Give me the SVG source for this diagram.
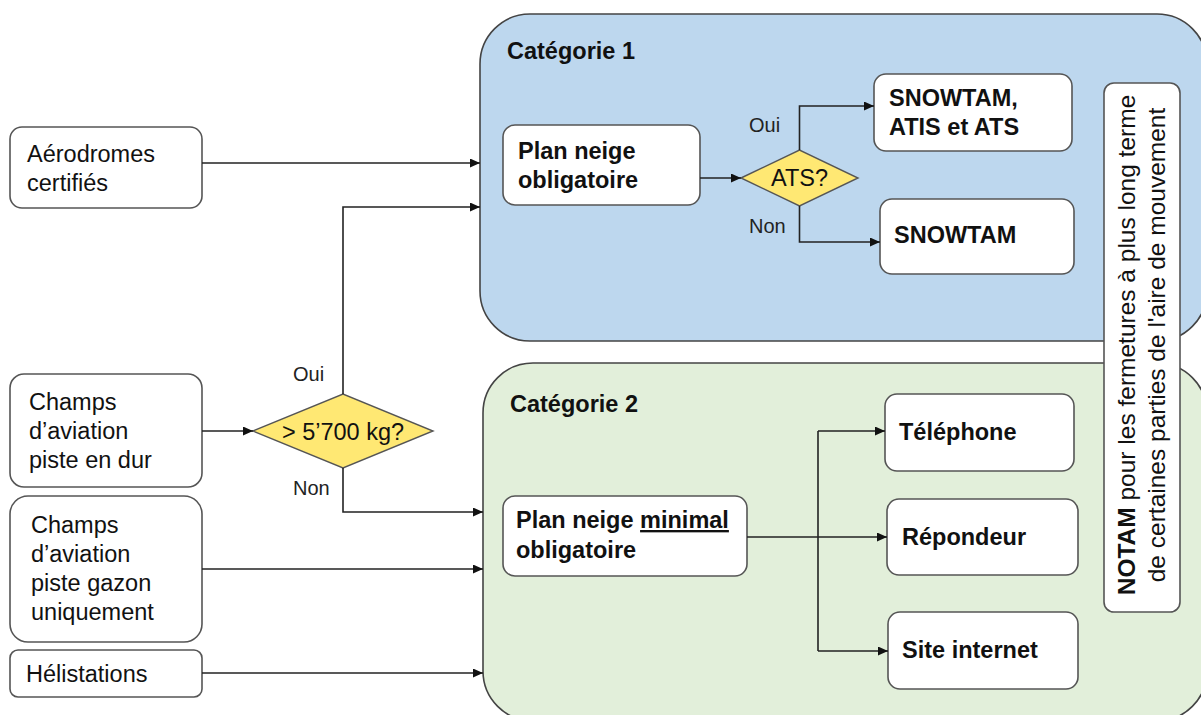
<svg xmlns="http://www.w3.org/2000/svg" width="1201" height="715" viewBox="0 0 1201 715">
<style>
.cat1{fill:#bdd7ee;stroke:#444;stroke-width:1.6}
.cat2{fill:#e2efda;stroke:#444;stroke-width:1.6}
.box{fill:#fff;stroke:#555;stroke-width:1.6}
.dia{fill:#ffe873;stroke:#555;stroke-width:1.4}
text{font-family:"Liberation Sans",Arial,sans-serif;font-size:23.5px;fill:#111}
.b{font-weight:bold}
.lbl{font-size:20px;fill:#222}
.nt{font-size:24.5px}
.conn path{fill:none;stroke:#222;stroke-width:1.6}
</style>
<defs>
<marker id="ah" markerUnits="userSpaceOnUse" markerWidth="10" markerHeight="9" refX="10" refY="4.5" orient="auto">
<path d="M0,0 L10,4.5 L0,9 z" fill="#111"/>
</marker>
</defs>
<rect width="1201" height="715" fill="#fff"/>
<g id="categorie1">
<rect class="cat1" x="480" y="14" width="727" height="327" rx="50"/>
<text class="b" x="507" y="59">Catégorie 1</text>
</g>
<g id="categorie2">
<rect class="cat2" x="483" y="363" width="724" height="358" rx="50"/>
<text class="b" x="510" y="412">Catégorie 2</text>
</g>
<g id="aerodromes">
<rect class="box" x="10" y="127" width="192" height="81" rx="12"/>
<text x="27" y="162">Aérodromes</text>
<text x="27" y="191">certifiés</text>
</g>
<g id="dur">
<rect class="box" x="10" y="374" width="192" height="113" rx="14"/>
<text x="29" y="410">Champs</text>
<text x="29" y="439">d’aviation</text>
<text x="29" y="468">piste en dur</text>
</g>
<g id="gazon">
<rect class="box" x="10" y="496" width="192" height="146" rx="18"/>
<text x="31" y="533">Champs</text>
<text x="31" y="562">d’aviation</text>
<text x="31" y="591">piste gazon</text>
<text x="31" y="620">uniquement</text>
</g>
<g id="helistations">
<rect class="box" x="10" y="650" width="192" height="47" rx="8"/>
<text x="26" y="682">Hélistations</text>
</g>
<g id="poids">
<polygon class="dia" points="253,431 343,394 433,431 343,468"/>
<text x="343" y="440" text-anchor="middle">&gt; 5’700 kg?</text>
</g>
<g id="plan1">
<rect class="box" x="503" y="125" width="197" height="80" rx="12"/>
<text class="b" x="518" y="159">Plan neige</text>
<text class="b" x="518" y="188">obligatoire</text>
</g>
<g id="ats">
<polygon class="dia" points="741,178 799.5,150 858,178 799.5,206"/>
<text x="799.5" y="186" text-anchor="middle">ATS?</text>
</g>
<g id="snowtam-atis">
<rect class="box" x="874" y="74" width="198" height="77" rx="12"/>
<text class="b" x="889" y="106">SNOWTAM,</text>
<text class="b" x="889" y="135">ATIS et ATS</text>
</g>
<g id="snowtam">
<rect class="box" x="880" y="199" width="194" height="75" rx="12"/>
<text class="b" x="894" y="243">SNOWTAM</text>
</g>
<g id="plan2">
<rect class="box" x="503" y="496" width="244" height="80" rx="12"/>
<text class="b" x="516" y="528">Plan neige <tspan text-decoration="underline">minimal</tspan></text>
<text class="b" x="516" y="558">obligatoire</text>
</g>
<g id="telephone">
<rect class="box" x="885" y="394" width="189" height="77" rx="12"/>
<text class="b" x="899" y="440">Téléphone</text>
</g>
<g id="repondeur">
<rect class="box" x="887" y="499" width="191" height="76" rx="12"/>
<text class="b" x="902" y="545">Répondeur</text>
</g>
<g id="site">
<rect class="box" x="888" y="612" width="190" height="77" rx="12"/>
<text class="b" x="902" y="658">Site internet</text>
</g>
<g id="notam">
<rect class="box" x="1104" y="83" width="76" height="529" rx="10"/>
<text class="nt" transform="translate(1135,345) rotate(-90)" text-anchor="middle"><tspan class="b">NOTAM</tspan> pour les fermetures à plus long terme</text>
<text class="nt" transform="translate(1165,345) rotate(-90)" text-anchor="middle">de certaines parties de l'aire de mouvement</text>
</g>
<g id="connectors" class="conn">
<path d="M202,163 H480" marker-end="url(#ah)"/>
<path d="M202,431 H253" marker-end="url(#ah)"/>
<path d="M343,394 V207 H480" marker-end="url(#ah)"/>
<path d="M343,468 V512 H483" marker-end="url(#ah)"/>
<path d="M202,569 H483" marker-end="url(#ah)"/>
<path d="M202,673 H483" marker-end="url(#ah)"/>
<path d="M700,178 H741" marker-end="url(#ah)"/>
<path d="M799.5,150 V106 H874" marker-end="url(#ah)"/>
<path d="M799.5,206 V242 H880" marker-end="url(#ah)"/>
<path d="M747,537 H887" marker-end="url(#ah)"/>
<path d="M818,431 V651"/>
<path d="M818,431 H885" marker-end="url(#ah)"/>
<path d="M818,651 H888" marker-end="url(#ah)"/>
<text class="lbl" x="293" y="381">Oui</text>
<text class="lbl" x="293" y="495">Non</text>
<text class="lbl" x="749" y="132">Oui</text>
<text class="lbl" x="749" y="233">Non</text>
</g>
</svg>
